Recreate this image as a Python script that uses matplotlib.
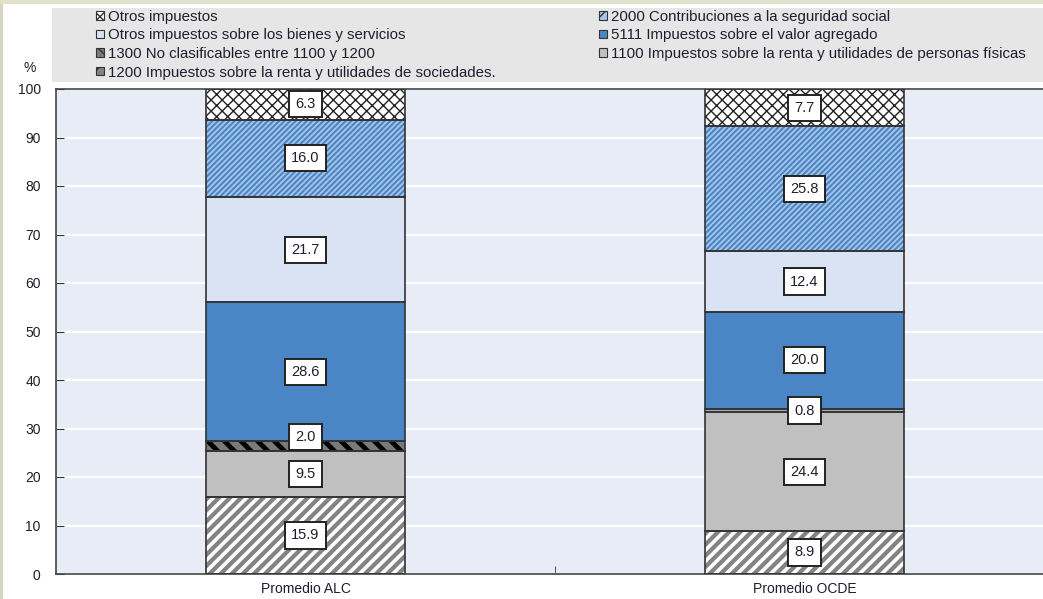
import matplotlib
matplotlib.use('Agg')
import matplotlib.pyplot as plt
from matplotlib import font_manager
from matplotlib.patches import Rectangle, Patch

names = {f.name for f in font_manager.fontManager.ttflist}
if 'Liberation Sans Narrow' in names:
    FAM = ['Liberation Sans Narrow', 'DejaVu Sans']
    FS, FS_LEG, FS_BOX = 11.5, 13, 12.5
else:
    FAM = ['Liberation Sans', 'DejaVu Sans']
    FS, FS_LEG, FS_BOX = 10, 10.8, 10.5
plt.rcParams['font.family'] = FAM

# ---------------- data ----------------
categories = ['Promedio ALC', 'Promedio OCDE']
v_1200 = [15.9, 8.9]
v_1100 = [9.5, 24.4]
v_1300 = [2.0, 0.8]
v_5111 = [28.6, 20.0]
v_otros_bys = [21.7, 12.4]
v_2000 = [16.0, 25.8]
v_otros = [6.3, 7.7]

lab_1200 = '1200 Impuestos sobre la renta y utilidades de sociedades.'
lab_1100 = '1100 Impuestos sobre la renta y utilidades de personas físicas'
lab_1300 = '1300 No clasificables entre 1100 y 1200'
lab_5111 = '5111 Impuestos sobre el valor agregado'
lab_otros_bys = 'Otros impuestos sobre los bienes y servicios'
lab_2000 = '2000 Contribuciones a la seguridad social'
lab_otros = 'Otros impuestos'

# stack order bottom -> top
stack = [
    (lab_1200, v_1200, dict(face='#838383', hatch='///', hc='white', hlw=2.6)),
    (lab_1100, v_1100, dict(face='#c0c0c0', hatch=None, hc=None, hlw=1)),
    (lab_1300, v_1300, dict(face='#7a7a7a', hatch='\\\\', hc='black', hlw=3.5)),
    (lab_5111, v_5111, dict(face='#4a86c5', hatch=None, hc=None, hlw=1)),
    (lab_otros_bys, v_otros_bys, dict(face='#dae3f3', hatch=None, hc=None, hlw=1)),
    (lab_2000, v_2000, dict(face='#a9c6e9', hatch='//////', hc='#4a86c5', hlw=1.5)),
    (lab_otros, v_otros, dict(face='white', hatch='xxx', hc='#222222', hlw=1.0)),
]

W, H = 1043, 599
fig = plt.figure(figsize=(W / 100, H / 100), dpi=100)
fig.patch.set_facecolor('white')

# decorative page border
fig.add_artist(Rectangle((0, 0), 3 / W, 1, transform=fig.transFigure,
                         facecolor='#d6d6be', edgecolor='none', zorder=0))
fig.add_artist(Rectangle((0, 1 - 4 / H), 1, 4 / H, transform=fig.transFigure,
                         facecolor='#e2e2cc', edgecolor='none', zorder=0))
# legend background
fig.add_artist(Rectangle((52 / W, 1 - 82 / H), 1, 74 / H, transform=fig.transFigure,
                         facecolor='#e6e6e6', edgecolor='none', zorder=0))

ax = fig.add_axes([56 / W, 1 - 574 / H, 998 / W, 485 / H])
ax.set_facecolor('#e8ecf6')

x = list(range(len(categories)))
bw = 0.4
bottoms = [0.0] * len(categories)
text_color = '#1e1e2e'


def set_hlw(p, lw):
    if hasattr(p, 'set_hatch_linewidth'):
        p.set_hatch_linewidth(lw)


handles = {}
for lab, vals, st in stack:
    with plt.rc_context({'hatch.linewidth': st['hlw']}):
        bars = ax.bar(x, vals, bw, bottom=bottoms, color=st['face'],
                      edgecolor=(st['hc'] if st['hatch'] else st['face']),
                      hatch=st['hatch'], linewidth=0, zorder=2)
        for p in bars:
            set_hlw(p, st['hlw'])
    # the thin OCDE 1300 segment renders plain in the source
    if lab == lab_1300:
        bars[1].set_hatch(None)
        bars[1].set_facecolor('#a2acba')
        bars[1].set_edgecolor('#a2acba')
    ax.bar(x, vals, bw, bottom=bottoms, fill=False, edgecolor='#333333',
           linewidth=1.2, zorder=3)
    for i, v in enumerate(vals):
        yc = bottoms[i] + v / 2
        if lab == lab_1300 and i == 0:
            yc = bottoms[i] + 2.8
        ax.text(x[i], yc, f'{v:.1f}', ha='center', va='center', fontsize=FS_BOX,
                color=text_color, zorder=5,
                bbox=dict(boxstyle='square,pad=0.42', facecolor='white',
                          edgecolor='#222222', linewidth=1.4))
    lh = min(st['hlw'], 1.0)
    hatch_leg = st['hatch'][:1] * 2 if st['hatch'] else None
    with plt.rc_context({'hatch.linewidth': lh}):
        hp = Patch(facecolor=st['face'], edgecolor='#333333', hatch=hatch_leg,
                   linewidth=0.8)
        set_hlw(hp, lh)
    handles[lab] = hp
    bottoms = [b + v for b, v in zip(bottoms, vals)]

ax.set_xlim(-0.5, 1.5)
ax.set_ylim(0, 100)
ax.set_yticks(range(0, 101, 10))
ax.yaxis.grid(True, color='white', linewidth=1.6, zorder=0)
ax.set_axisbelow(True)
ax.set_xticks(x)
ax.set_xticklabels(categories, fontsize=FS, color=text_color)
ax.set_xticks([0.5], minor=True)
ax.tick_params(axis='x', which='major', length=0, pad=6)
ax.tick_params(axis='x', which='minor', direction='in', length=6, color='#333333')
ax.tick_params(axis='y', direction='in', length=6, color='#333333',
               labelsize=FS, labelcolor=text_color, pad=11)
for s in ['left', 'top', 'bottom']:
    ax.spines[s].set_color('#444444')
    ax.spines[s].set_linewidth(1.2)
ax.spines['right'].set_visible(False)

fig.text(30 / W, 1 - 68 / H, '%', ha='center', va='center', fontsize=FS,
         color=text_color)

col1 = [lab_otros, lab_otros_bys, lab_1300, lab_1200]
col2 = [lab_2000, lab_5111, lab_1100]
common = dict(loc='upper left', frameon=False, fontsize=FS_LEG, borderpad=0,
              borderaxespad=0, handlelength=0.5, handleheight=0.5,
              handletextpad=0.3, labelspacing=0.3, labelcolor=text_color)
leg1 = fig.legend([handles[k] for k in col1], col1,
                  bbox_to_anchor=(96 / W, 1 - 10 / H), **common)
leg2 = fig.legend([handles[k] for k in col2], col2,
                  bbox_to_anchor=(599 / W, 1 - 10 / H), **common)

fig.savefig('out.png', dpi=100)
